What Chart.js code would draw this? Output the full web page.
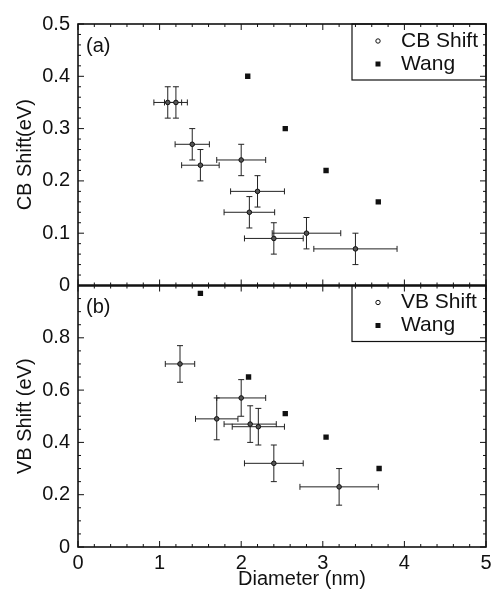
<!DOCTYPE html>
<html>
<head>
<meta charset="utf-8">
<script src="https://cdn.jsdelivr.net/npm/chart.js@4"></script>
<style>
  html, body { margin: 0; padding: 0; background: #fff; }
  #wrap { position: relative; width: 491px; height: 591px; }
</style>
</head>
<body>
<div id="wrap"><canvas id="chart" width="491" height="591"></canvas></div>
<script>
// panel (a): conduction band shift
const cbDiam = [1.10, 1.20, 1.40, 1.50, 2.00, 2.20, 2.10, 2.40, 2.80, 3.40];
const cbShift = [0.35, 0.35, 0.27, 0.23, 0.24, 0.18, 0.14, 0.09, 0.10, 0.07];
const cbDiamErr = [0.17, 0.14, 0.21, 0.23, 0.30, 0.33, 0.31, 0.36, 0.42, 0.51];
const cbShiftErr = [0.03, 0.03, 0.03, 0.03, 0.03, 0.03, 0.03, 0.03, 0.03, 0.03];
const wangCbDiam = [2.08, 2.54, 3.04, 3.68];
const wangCbShift = [0.40, 0.30, 0.22, 0.16];

// panel (b): valence band shift
const vbDiam = [1.25, 1.70, 2.00, 2.11, 2.21, 2.40, 3.20];
const vbShift = [0.70, 0.49, 0.57, 0.47, 0.46, 0.32, 0.23];
const vbDiamErr = [0.18, 0.26, 0.30, 0.32, 0.32, 0.36, 0.48];
const vbShiftErr = [0.07, 0.08, 0.07, 0.07, 0.07, 0.07, 0.07];
const wangVbDiam = [1.50, 2.09, 2.54, 3.04, 3.69];
const wangVbShift = [0.97, 0.65, 0.51, 0.42, 0.30];

const legendA = ['CB Shift', 'Wang'];
const legendB = ['VB Shift', 'Wang'];
const xTitle = 'Diameter (nm)';

const font = 'Liberation Sans, Arial, Helvetica, sans-serif';
const ink = '#111';

const toPoints = (xs, ys) => xs.map((x, i) => ({ x, y: ys[i] }));

const measured = (label, xs, ys, xErr, yErr, axis) => ({
    label,
    data: toPoints(xs, ys),
    xErr,
    yErr,
    yAxisID: axis,
    pointStyle: 'circle',
    pointRadius: 2.3,
    backgroundColor: '#555',
    borderColor: ink,
    borderWidth: 1,
});

const wang = (xs, ys, axis) => ({
    label: 'Wang',
    data: toPoints(xs, ys),
    yAxisID: axis,
    pointStyle: 'rect',
    pointRadius: 3.8,
    backgroundColor: ink,
    borderColor: ink,
    borderWidth: 0,
});

const errorBars = {
    id: 'errorBars',
    beforeDatasetsDraw(chart) {
        const { ctx } = chart;
        const xs = chart.scales.x;
        ctx.save();
        ctx.strokeStyle = '#222';
        ctx.lineWidth = 1;
        chart.data.datasets.forEach((ds) => {
            if (!ds.xErr) return;
            const ys = chart.scales[ds.yAxisID];
            ds.data.forEach((p, i) => {
                const px = xs.getPixelForValue(p.x);
                const py = ys.getPixelForValue(p.y);
                const x0 = xs.getPixelForValue(p.x - ds.xErr[i]);
                const x1 = xs.getPixelForValue(p.x + ds.xErr[i]);
                const y0 = ys.getPixelForValue(p.y - ds.yErr[i]);
                const y1 = ys.getPixelForValue(p.y + ds.yErr[i]);
                ctx.beginPath();
                ctx.moveTo(x0, py); ctx.lineTo(x1, py);
                ctx.moveTo(x0, py - 3); ctx.lineTo(x0, py + 3);
                ctx.moveTo(x1, py - 3); ctx.lineTo(x1, py + 3);
                ctx.moveTo(px, y0); ctx.lineTo(px, y1);
                ctx.moveTo(px - 3, y0); ctx.lineTo(px + 3, y0);
                ctx.moveTo(px - 3, y1); ctx.lineTo(px + 3, y1);
                ctx.stroke();
            });
        });
        ctx.restore();
    },
};

// frame, inward ticks, panel tags, x title and the two legend boxes
const frame = {
    id: 'frame',
    afterDraw(chart) {
        const { ctx, chartArea } = chart;
        const xs = chart.scales.x;
        const panels = [
            { s: chart.scales.yA, minor: 0.02, major: 0.1, tag: '(a)', legend: legendA },
            { s: chart.scales.yB, minor: 0.05, major: 0.2, tag: '(b)', legend: legendB },
        ];
        const L = chartArea.left, R = chartArea.right;
        ctx.save();
        ctx.strokeStyle = ink;

        panels.forEach((pn) => {
            const top = pn.s.top, bot = pn.s.bottom;
            ctx.lineWidth = 1;
            ctx.beginPath();
            for (let v = 0; v <= pn.s.max + 1e-9; v += pn.minor) {
                const y = pn.s.getPixelForValue(v);
                const isMajor = Math.abs(v / pn.major - Math.round(v / pn.major)) < 1e-6;
                const len = isMajor ? 6 : 3;
                ctx.moveTo(L, y); ctx.lineTo(L + len, y);
                ctx.moveTo(R, y); ctx.lineTo(R - len, y);
            }
            for (let v = 0; v <= 5 + 1e-9; v += 0.2) {
                const x = xs.getPixelForValue(v);
                const isMajor = Math.abs(v - Math.round(v)) < 1e-6;
                const len = isMajor ? 6 : 3;
                ctx.moveTo(x, top); ctx.lineTo(x, top + len);
                ctx.moveTo(x, bot); ctx.lineTo(x, bot - len);
            }
            ctx.stroke();

            ctx.fillStyle = ink;
            ctx.font = '20px ' + font;
            ctx.textBaseline = 'middle';
            ctx.textAlign = 'left';
            ctx.fillText(pn.tag, L + 8, top + 22);

            // legend box
            const bx = 352, bw = R - bx, bh = 56;
            ctx.lineWidth = 1.2;
            ctx.strokeRect(bx, top, bw, bh);
            pn.legend.forEach((txt, i) => {
                const cy = top + 17 + i * 23;
                ctx.beginPath();
                if (i === 0) {
                    ctx.lineWidth = 1;
                    ctx.arc(378, cy, 2.2, 0, Math.PI * 2);
                    ctx.stroke();
                } else {
                    ctx.fillRect(375.5, cy - 2.5, 5, 5);
                }
                ctx.font = '21px ' + font;
                ctx.fillText(txt, 401, cy);
            });
        });

        // x title sits right of centre in the original
        ctx.font = '20px ' + font;
        ctx.textAlign = 'center';
        ctx.textBaseline = 'middle';
        ctx.fillText(xTitle, 302, 579);

        ctx.lineWidth = 1.6;
        ctx.strokeRect(L, chartArea.top, R - L, chartArea.bottom - chartArea.top);
        ctx.lineWidth = 2.6;
        ctx.beginPath();
        ctx.moveTo(L, chart.scales.yA.bottom);
        ctx.lineTo(R, chart.scales.yA.bottom);
        ctx.stroke();
        ctx.restore();
    },
};

const yAxis = (min, max, step, title, hideTop) => ({
    type: 'linear',
    position: 'left',
    stack: 'panels',
    min,
    max,
    grid: { display: false, drawTicks: false },
    border: { display: false },
    ticks: {
        stepSize: step,
        padding: 8,
        color: ink,
        font: { family: font, size: 20 },
        callback: (v) => (hideTop && v === max ? '' : v),
    },
    title: {
        display: true,
        text: title,
        color: ink,
        font: { family: font, size: 20 },
        padding: { top: 13, bottom: 0 },
    },
    afterFit: (s) => { s.width = 78; },
});

new Chart(document.getElementById('chart'), {
    type: 'scatter',
    data: {
        datasets: [
            measured('CB Shift', cbDiam, cbShift, cbDiamErr, cbShiftErr, 'yA'),
            wang(wangCbDiam, wangCbShift, 'yA'),
            measured('VB Shift', vbDiam, vbShift, vbDiamErr, vbShiftErr, 'yB'),
            wang(wangVbDiam, wangVbShift, 'yB'),
        ],
    },
    options: {
        responsive: false,
        animation: false,
        layout: { padding: { top: 24, right: 3, left: 0, bottom: 0 } },
        scales: {
            x: {
                type: 'linear',
                min: 0,
                max: 5,
                grid: { display: false, drawTicks: false },
                border: { display: false },
                ticks: {
                    stepSize: 1,
                    padding: 4,
                    color: ink,
                    font: { family: font, size: 20 },
                },
                title: { display: false },
                afterFit: (s) => {
                    s.height = 44;
                    s.paddingLeft = 0;
                    s.paddingRight = 0;
                },
            },
            yB: yAxis(0, 1, 0.2, 'VB Shift (eV)', true),
            yA: yAxis(0, 0.5, 0.1, 'CB Shift(eV)', false),
        },
        plugins: {
            legend: { display: false },
            tooltip: { enabled: false },
        },
    },
    plugins: [errorBars, frame],
});
</script>
</body>
</html>
